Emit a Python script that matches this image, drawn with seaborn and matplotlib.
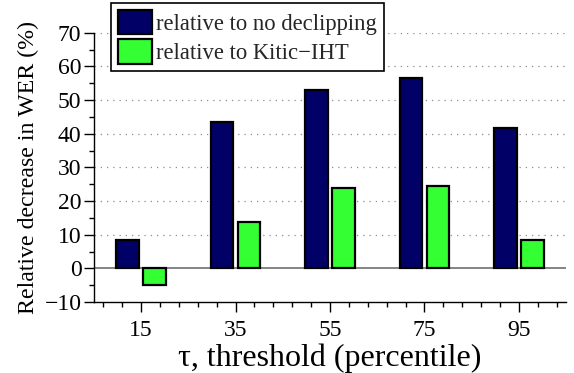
import matplotlib
matplotlib.use("Agg")
import matplotlib.pyplot as plt
from matplotlib.ticker import MultipleLocator, FixedLocator
import numpy as np
import pandas as pd
import seaborn as sns

# Threshold percentiles and relative WER decrease (%) for each reference
thresholds = [15, 35, 55, 75, 95]
vs_no_declipping = [8.4, 43.4, 52.9, 56.4, 41.7]
vs_kitic_iht = [-4.9, 13.7, 23.8, 24.4, 8.5]
series_names = ["relative to no declipping", "relative to Kitic\u2212IHT"]
series_colors = ["#000066", "#33FF33"]

df = pd.DataFrame({
    "threshold": thresholds * 2,
    "decrease": vs_no_declipping + vs_kitic_iht,
    "series": [series_names[0]] * len(thresholds) + [series_names[1]] * len(thresholds),
})

sns.set_theme(style="white")
plt.rcParams["font.family"] = ["Liberation Serif", "DejaVu Serif"]
plt.rcParams["axes.unicode_minus"] = True

fig = plt.figure(figsize=(5.74, 3.73), dpi=100)
ax = fig.add_axes([94 / 574, 1 - 302 / 373, (566 - 94) / 574, (302 - 32.7) / 373])

# dotted horizontal grid and solid zero line
for y in range(10, 71, 10):
    ax.axhline(y, color="#8c8c8c", lw=0.9, ls=(0, (1, 4)), zorder=0)
ax.axhline(0, color="#707070", lw=1.2, zorder=0.5)

sns.barplot(
    data=df, x="threshold", y="decrease", hue="series",
    hue_order=series_names, palette=series_colors,
    native_scale=True, width=0.57, gap=0.16, dodge=True,
    edgecolor="black", linewidth=1.6, saturation=1, errorbar=None,
    legend=False, ax=ax, zorder=2,
)

ax.set_xlim(5, 105)
ax.set_ylim(-10, 70)
ax.xaxis.set_major_locator(FixedLocator(thresholds))
ax.xaxis.set_minor_locator(MultipleLocator(4, offset=3))
ax.yaxis.set_major_locator(MultipleLocator(10))
ax.yaxis.set_minor_locator(MultipleLocator(5))

for side in ["top", "right"]:
    ax.spines[side].set_visible(False)
for side in ["left", "bottom"]:
    ax.spines[side].set_color("black")
    ax.spines[side].set_linewidth(1.0)

ax.tick_params(axis="both", which="major", direction="out", length=7, width=1,
               color="black", labelsize=17, labelcolor="black")
ax.tick_params(axis="both", which="minor", direction="out", length=3.5, width=1,
               color="black")
ax.tick_params(axis="y", which="both", left=True, pad=2)
ax.tick_params(axis="x", which="both", bottom=True, pad=6)

ax.set_xlabel("\u03c4, threshold (percentile)", fontsize=23, color="black", labelpad=2)
ax.set_ylabel("Relative decrease in WER (%)", fontsize=17.2, color="black", labelpad=4)

handles = [plt.Rectangle((0, 0), 1, 1, facecolor=c, edgecolor="black", linewidth=1.6)
           for c in series_colors]
leg = fig.legend(
    handles, series_names, loc="upper left",
    bbox_to_anchor=(111 / 574, 1 - 3 / 373), bbox_transform=fig.transFigure,
    fontsize=16.3, frameon=True, fancybox=False, shadow=False, framealpha=1,
    handlelength=1.5, handleheight=1.3, handletextpad=0.2,
    borderpad=0.3, labelspacing=0.2, borderaxespad=0,
)
leg.get_frame().set_edgecolor("black")
leg.get_frame().set_linewidth(1.2)

fig.savefig("out.png", dpi=100)
